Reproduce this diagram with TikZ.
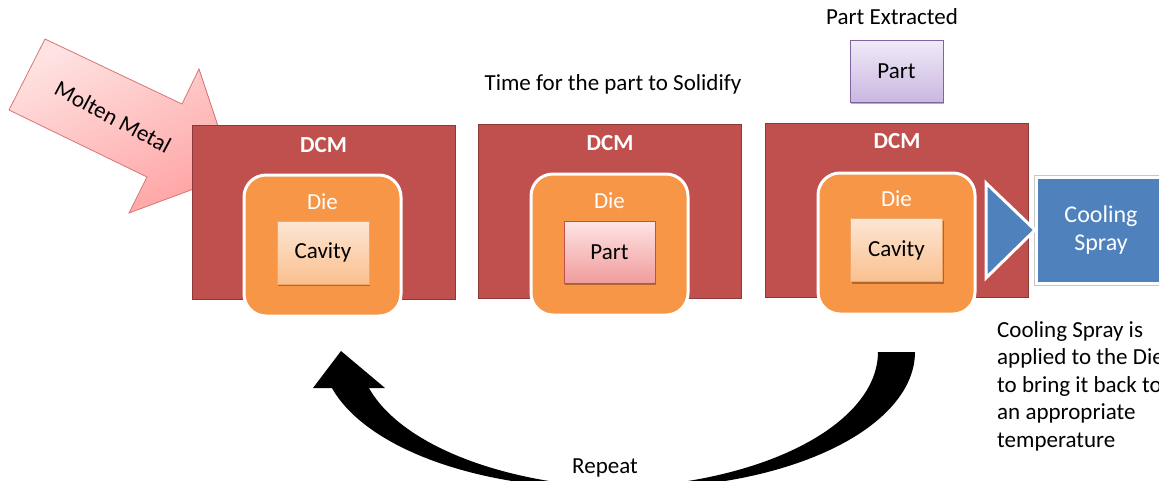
\documentclass[tikz,border=0pt]{standalone}
\usepackage{fontspec}
\setmainfont{Carlito}
\usetikzlibrary{shadows}

\definecolor{dcmred}{HTML}{C0504D}
\definecolor{dcmedge}{HTML}{8C3836}
\definecolor{dieorange}{HTML}{F79646}
\definecolor{cavtop}{HTML}{FDE6D4}
\definecolor{cavbot}{HTML}{FAC08F}
\definecolor{cavedge}{HTML}{EFA66A}
\definecolor{parttop}{HTML}{FFE4E4}
\definecolor{partbot}{HTML}{F09C9C}
\definecolor{partedge}{HTML}{C0504D}
\definecolor{lavtop}{HTML}{F0EAF8}
\definecolor{lavbot}{HTML}{CAB7E0}
\definecolor{lavedge}{HTML}{8064A2}
\definecolor{sprayblue}{HTML}{4F81BD}
\definecolor{moltentop}{HTML}{FFE2E2}
\definecolor{moltenbot}{HTML}{FFA4A4}
\definecolor{moltenedge}{HTML}{D67575}

\tikzset{
  txt/.style={inner sep=0pt, font=\fontsize{23}{27}\selectfont},
  machine/.style={draw=dcmedge, line width=1pt, fill=dcmred,
    minimum width=263pt, minimum height=174pt, inner sep=0pt},
  diebox/.style={draw=white, line width=3pt, fill=dieorange,
    rounded corners=22pt, minimum width=157pt, minimum height=141pt, inner sep=0pt},
  cavitybox/.style={draw=cavedge, line width=0.8pt, top color=cavtop, bottom color=cavbot,
    minimum width=92pt, minimum height=63pt, txt,
    drop shadow={shadow xshift=1pt, shadow yshift=-2pt, opacity=0.3, fill=black}},
  partbox/.style={draw=partedge, line width=0.8pt, top color=parttop, bottom color=partbot,
    minimum width=91pt, minimum height=62pt, txt,
    drop shadow={shadow xshift=1pt, shadow yshift=-2pt, opacity=0.3, fill=black}},
  outpart/.style={draw=lavedge, line width=0.8pt, top color=lavtop, bottom color=lavbot,
    minimum width=93pt, minimum height=62pt, txt,
    drop shadow={shadow xshift=1pt, shadow yshift=-2pt, opacity=0.3, fill=black}},
  machinelbl/.style={txt, text=white, font=\fontsize{23}{27}\selectfont\bfseries},
  dielbl/.style={txt, text=white},
}

\begin{document}
\begin{tikzpicture}[x=1pt, y=-1pt]
\useasboundingbox (0,0) rectangle (1159,480);
\clip (0,0) rectangle (1159,480);

% incoming molten metal
\coordinate (mmA) at (45,39);
\coordinate (mmB) at (182,104);
\coordinate (mmC) at (199,69);
\coordinate (mmTip) at (234,174);
\coordinate (mmD) at (129,213);
\coordinate (mmE) at (147,177);
\coordinate (mmF) at (9,110);
\draw[moltenedge, line width=0.8pt, top color=moltentop, bottom color=moltenbot, shading angle=25]
  (mmA) -- (mmB) -- (mmC) -- (mmTip) -- (mmD) -- (mmE) -- (mmF) -- cycle;
\node[txt, rotate=-28] (molten) at (113,117) {Molten Metal};

% the three machine stages
\node[machine] (dcm1) at (323.5,212) {};
\node[machine] (dcm2) at (610,211) {};
\node[machine] (dcm3) at (897,210) {};
\node[machinelbl] (dcm1lbl) at (323.5,145) {DCM};
\node[machinelbl] (dcm2lbl) at (610,143) {DCM};
\node[machinelbl] (dcm3lbl) at (897,141) {DCM};

\node[diebox] (die1) at (322.5,245.5) {};
\node[diebox] (die2) at (609.5,244.5) {};
\node[diebox] (die3) at (896.5,243.5) {};
\node[dielbl] (die1lbl) at (322.5,202) {Die};
\node[dielbl] (die2lbl) at (609.5,201) {Die};
\node[dielbl] (die3lbl) at (896.5,199) {Die};

\node[cavitybox] (cav1) at (323,252.5) {Cavity};
\node[partbox] (part2) at (609.5,252) {Part};
\node[cavitybox] (cav3) at (896.5,250) {Cavity};

% extracted part
\node[txt] (extracted) at (892,17) {Part Extracted};
\node[outpart] (part3) at (896.5,71) {Part};
\node[txt] (solidify) at (613,84) {Time for the part to Solidify};

% cooling spray
\node[draw=gray!45, line width=0.6pt, minimum width=134pt, minimum height=110pt, inner sep=0pt] (coolrim) at (1101,230) {};
\node[draw=white, line width=3pt, fill=sprayblue, minimum width=130pt, minimum height=106pt,
      inner sep=0pt, align=center, text=white, font=\fontsize{24}{28}\selectfont] (spray) at (1101,230) {Cooling\\Spray};
\coordinate (jetA) at (986,183);
\coordinate (jetB) at (986,278);
\coordinate (jetTip) at (1035,230);
\draw[white, line width=3pt, fill=sprayblue, line join=miter] (jetA) -- (jetTip) -- (jetB) -- cycle;

\node[txt, anchor=north west, align=left, font=\fontsize{23}{27.5}\selectfont] (note) at (997,321)
  {Cooling Spray is\\applied to the Die\\to bring it back to\\an appropriate\\temperature};

% return loop
\coordinate (loopstart) at (878,352);
\coordinate (headtip) at (341,351);
\coordinate (headL) at (313,388);
\coordinate (headR) at (385,388);
\fill[black]
  plot[domain=165.09:0, samples=90] ({600+278*cos(\x)},{352+136*sin(\x)})
  -- plot[domain=0:165.09, samples=90] ({637+278*cos(\x)},{352+136*sin(\x)})
  -- cycle;
\fill[black] (headL) -- (headtip) -- (headR) -- cycle;
\node[txt] (repeat) at (605,468) {Repeat};
\end{tikzpicture}
\end{document}
